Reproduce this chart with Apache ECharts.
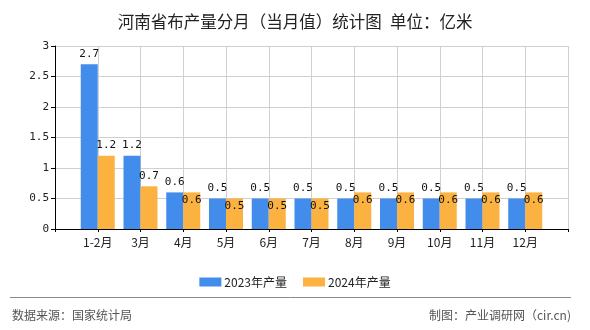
<!DOCTYPE html>
<html>
<head>
<meta charset="utf-8">
<script src="https://cdn.jsdelivr.net/npm/echarts@6/dist/echarts.min.js"></script>
<style>
  html, body { margin: 0; padding: 0; background: #fff; }
  #chart { width: 590px; height: 330px; }
</style>
</head>
<body>
<div id="chart"></div>
<script>
// Monthly cloth output in Henan province (100 million metres)
const categories = ['1-2月', '3月', '4月', '5月', '6月', '7月', '8月', '9月', '10月', '11月', '12月'];
const values2023 = [2.7, 1.2, 0.6, 0.5, 0.5, 0.5, 0.5, 0.5, 0.5, 0.5, 0.5];
const values2024 = [1.2, 0.7, 0.6, 0.5, 0.5, 0.5, 0.6, 0.6, 0.6, 0.6, 0.6];
const seriesNames = ['2023年产量', '2024年产量'];
const yTicks = [0, 0.5, 1, 1.5, 2, 2.5, 3];

const BLUE = '#428CEC';
const ORANGE = '#FBB240';
const MONO = '"DejaVu Sans Mono", "Liberation Mono", monospace';
const CJK = '"Noto Sans CJK SC", "Noto Sans", sans-serif';

// Pad the category axis with an empty slot at each end so the
// month ticks sit between the axis ends.
const axisCats = [''].concat(categories, ['']);
const pad = arr => [null].concat(arr, [null]);

// 2024 labels sit above the bar for the first two months, inside the top after that
const data2024 = pad(values2024.map((v, i) => ({
  value: v,
  label: i < 2 ? { position: 'top', distance: 5 } : { position: 'insideTop', distance: 2 }
})));

const chart = echarts.init(document.getElementById('chart'), null, { renderer: 'canvas' });

chart.setOption({
  animation: false,
  backgroundColor: '#fff',
  title: {
    text: '河南省布产量分月（当月值）统计图\u2002单位：亿米',
    left: 'center',
    top: 8,
    textStyle: { fontFamily: CJK, fontSize: 16.5, fontWeight: 'normal', color: '#222' }
  },
  legend: {
    data: seriesNames,
    left: 'center',
    top: 271,
    itemWidth: 22,
    itemHeight: 9,
    itemGap: 16,
    icon: 'rect',
    textStyle: { fontFamily: CJK, fontSize: 12, color: '#222', padding: [0, 0, 0, -2] }
  },
  grid: { left: 55, right: 22, top: 46, bottom: 101, containLabel: false },
  xAxis: {
    type: 'category',
    data: axisCats,
    boundaryGap: false,
    axisLine: { lineStyle: { color: '#000', width: 1 } },
    axisTick: { show: true, length: 3, lineStyle: { color: '#000' } },
    axisLabel: { interval: 0, margin: 7, fontFamily: CJK, fontSize: 12, color: '#222' },
    splitLine: { show: true, lineStyle: { color: '#d0d0d0', width: 1 } }
  },
  yAxis: {
    type: 'value',
    min: yTicks[0],
    max: yTicks[yTicks.length - 1],
    interval: 0.5,
    axisLine: { show: true, lineStyle: { color: '#000', width: 1 } },
    axisTick: { show: true, length: 4, lineStyle: { color: '#000' } },
    axisLabel: { margin: 6, fontFamily: MONO, fontSize: 11, color: '#222' },
    splitLine: { show: true, lineStyle: { color: '#d0d0d0', width: 1 } }
  },
  series: [
    {
      name: seriesNames[0],
      type: 'bar',
      data: pad(values2023),
      barWidth: 17,
      barGap: '0%',
      itemStyle: { color: BLUE },
      label: {
        show: true,
        position: 'top',
        distance: 5,
        fontFamily: MONO,
        fontSize: 11,
        color: '#111'
      }
    },
    {
      name: seriesNames[1],
      type: 'bar',
      data: data2024,
      barWidth: 17,
      barGap: '0%',
      itemStyle: { color: ORANGE },
      label: {
        show: true,
        fontFamily: MONO,
        fontSize: 11,
        color: '#111'
      }
    }
  ],
  graphic: [
    {
      type: 'line',
      shape: { x1: 10, y1: 297.5, x2: 571, y2: 297.5 },
      style: { stroke: '#8a8a8a', lineWidth: 1 }
    },
    {
      type: 'text',
      left: 12,
      top: 309,
      style: { text: '数据来源：国家统计局', font: '12px ' + CJK, fill: '#555' }
    },
    {
      type: 'text',
      right: 19,
      top: 309,
      style: { text: '制图：产业调研网（cir.cn)', font: '12px ' + CJK, fill: '#555' }
    }
  ]
});
</script>
</body>
</html>
